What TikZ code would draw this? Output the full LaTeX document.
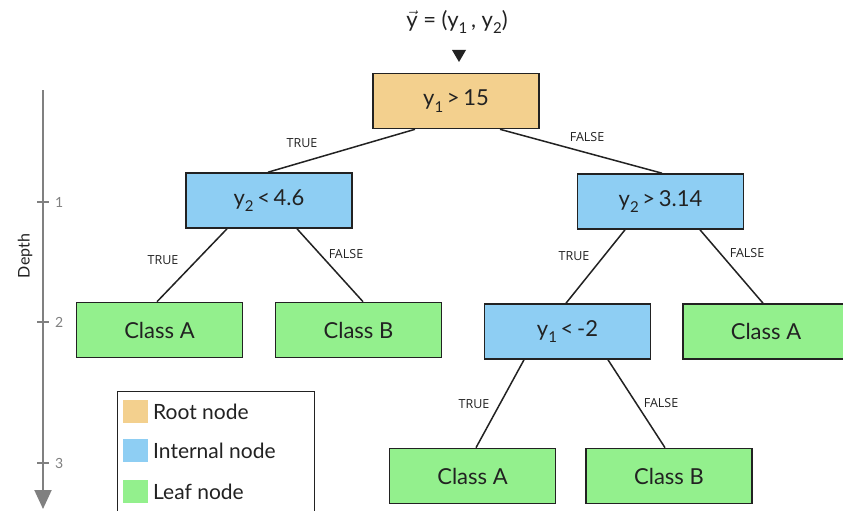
\documentclass[tikz,border=0pt]{standalone}
\usepackage{fontspec}
\setmainfont{Lato}
\newfontfamily\lblfont{Open Sans}
\usetikzlibrary{arrows.meta,calc}
\definecolor{rootc}{HTML}{F3D08E}
\definecolor{intc}{HTML}{8ECEF3}
\definecolor{leafc}{HTML}{93F08D}
\definecolor{ink}{HTML}{222222}
\definecolor{axisc}{HTML}{808080}
\newcommand\lowsub[1]{\raisebox{-0.3em}{\fontsize{15}{15}\selectfont #1}}
\begin{document}
\begin{tikzpicture}[x=1pt,y=-1pt,
  box/.style={draw=ink,line width=1.6pt,minimum width=166pt,minimum height=55pt,inner sep=0pt,text=ink,font=\fontsize{22}{24}\selectfont},
  rootbox/.style={box,fill=rootc},
  intbox/.style={box,fill=intc},
  leafbox/.style={box,fill=leafc},
  edge/.style={draw=ink,line width=1.5pt},
  lbl/.style={font=\lblfont\fontsize{12.5}{14}\selectfont,inner sep=0pt,text=ink},
  axisline/.style={draw=axisc,line width=2pt},
  ticklbl/.style={font=\fontsize{14}{15}\selectfont,text=axisc,inner sep=0pt},
  swatch/.style={minimum width=25pt,minimum height=23pt,inner sep=0pt},
  legtext/.style={font=\fontsize{21}{24}\selectfont,text=ink,inner sep=0pt,anchor=west}
]
\useasboundingbox (0,0) rectangle (843,511);
\clip (0,0) rectangle (843,511);
\fill[white] (0,0) rectangle (843,511);

% title and pointer
\node[font=\fontsize{22}{24}\selectfont,text=ink] (title) at (457,22) {$\vec{\mbox{y}}$ = (y\lowsub{1}\,, y\lowsub{2})};
\fill[ink] (452,50) -- (466,50) -- (459,62) -- cycle;

% nodes
\node[rootbox] (root) at (456,101) {y\lowsub{1}\,>\,15};
\node[intbox] (l1) at (269,200.5) {y\lowsub{2}\,<\,4.6};
\node[intbox] (r1) at (660.5,201.5) {y\lowsub{2}\,>\,3.14};
\node[leafbox] (a1) at (159.5,330) {Class A};
\node[leafbox] (b1) at (358.5,330) {Class B};
\node[intbox] (m2) at (567.5,331.5) {y\lowsub{1}\,<\,-2};
\node[leafbox] (a2) at (766,331.5) {Class A};
\node[leafbox] (a3) at (472.5,476) {Class A};
\node[leafbox] (b3) at (669,476) {Class B};

% edges
\draw[edge] ([xshift=-41pt]root.south) -- ([xshift=-1pt]l1.north);
\draw[edge] ([xshift=44pt]root.south) -- ([xshift=1.5pt]r1.north);
\draw[edge] ([xshift=-42pt]l1.south) -- ([xshift=-2.5pt]a1.north);
\draw[edge] ([xshift=28pt]l1.south) -- ([xshift=4.5pt]b1.north);
\draw[edge] ([xshift=-35.5pt]r1.south) -- ([xshift=-1.5pt]m2.north);
\draw[edge] ([xshift=39.5pt]r1.south) -- ([xshift=-3pt]a2.north);
\draw[edge] ([xshift=-43.5pt]m2.south) -- ([xshift=3.5pt]a3.north);
\draw[edge] ([xshift=40.5pt]m2.south) -- ([xshift=-4pt]b3.north);

% edge labels
\node[lbl] (t1) at (302,143) {TRUE};
\node[lbl] (f1) at (587,137) {FALSE};
\node[lbl] (t2) at (163,260) {TRUE};
\node[lbl] (f2) at (346,254) {FALSE};
\node[lbl] (t3) at (574,256) {TRUE};
\node[lbl] (f3) at (747,253) {FALSE};
\node[lbl] (t4) at (474,404) {TRUE};
\node[lbl] (f4) at (661,403) {FALSE};

% depth axis
\coordinate (axtop) at (43,90);
\coordinate (axend) at (43,509);
\draw[axisline,-{Triangle[width=17pt,length=19pt]}] (axtop) -- (axend);
\foreach \d/\yy in {1/202,2/322,3/463}{
  \draw[axisline] (37,\yy) -- (49,\yy);
  \node[ticklbl,anchor=west] (tick\d) at (55,\yy) {\d};
}
\node[rotate=90,font=\fontsize{16}{18}\selectfont,text=ink] (depth) at (25,256) {Depth};

% legend
\draw[ink,line width=1pt] (117,391) rectangle (314,530);
\node[swatch,fill=rootc] (s1) at (135.5,411.5) {};
\node[swatch,fill=intc] (s2) at (135.5,450) {};
\node[swatch,fill=leafc] (s3) at (135.5,491) {};
\node[legtext] (lt1) at (153,411.5) {Root node};
\node[legtext] (lt2) at (153,451) {Internal node};
\node[legtext] (lt3) at (153,492) {Leaf node};
\end{tikzpicture}
\end{document}
